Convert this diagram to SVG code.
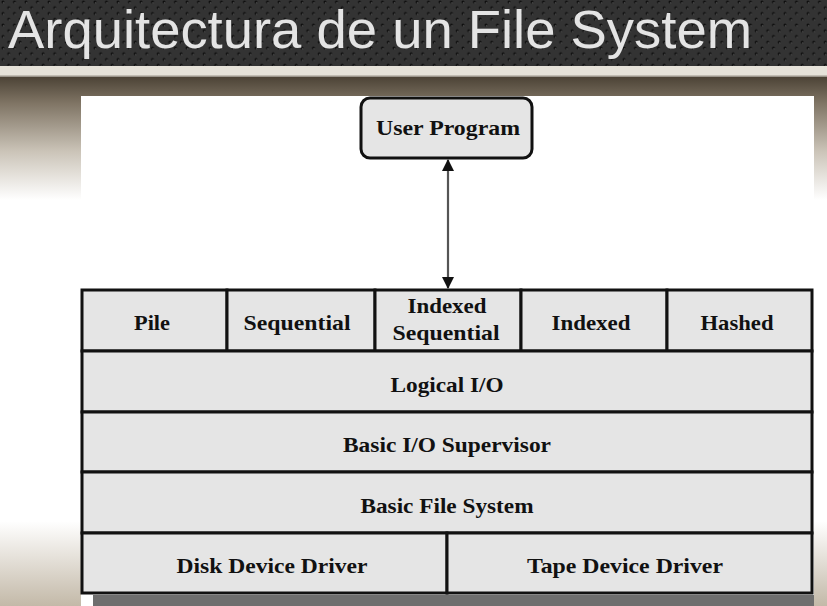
<svg xmlns="http://www.w3.org/2000/svg" width="827" height="606" viewBox="0 0 827 606">
<defs>
  <pattern id="dots" x="0" y="0" width="11.5" height="11.5" patternUnits="userSpaceOnUse">
    <rect width="11.5" height="11.5" fill="#333333"/>
    <circle cx="3" cy="2" r="1.5" fill="#0e0e0e"/>
    <circle cx="8.75" cy="7.75" r="1.5" fill="#0e0e0e"/>
    <circle cx="3.6" cy="2.8" r="0.8" fill="#4a4a4a"/>
    <circle cx="9.35" cy="8.55" r="0.8" fill="#4a4a4a"/>
  </pattern>
  <linearGradient id="bg" x1="0" y1="0" x2="0" y2="606" gradientUnits="userSpaceOnUse">
    <stop offset="0.125" stop-color="#4a4134"/>
    <stop offset="0.17" stop-color="#7f7464"/>
    <stop offset="0.25" stop-color="#cbc4b8"/>
    <stop offset="0.33" stop-color="#ffffff"/>
    <stop offset="0.86" stop-color="#ffffff"/>
    <stop offset="1" stop-color="#c3b9a8"/>
  </linearGradient>
  <marker id="arr" viewBox="0 0 12 12" refX="11" refY="6" markerWidth="12" markerHeight="12" markerUnits="userSpaceOnUse" orient="auto-start-reverse">
    <path d="M0,0 L12,6 L0,12 Z" fill="#111"/>
  </marker>
  <style>
    .cell { fill: #e5e5e5; stroke: #111; stroke-width: 3; }
    .lbl { font-family: "Liberation Serif", "Times New Roman", serif; font-weight: bold; font-size: 22px; fill: #111; text-anchor: middle; }
    .title { font-family: "Liberation Sans", Arial, sans-serif; font-size: 54px; fill: #e4e4e4; }
  </style>
</defs>

<!-- background -->
<rect x="0" y="0" width="827" height="606" fill="url(#bg)"/>
<rect x="0" y="0" width="827" height="66" fill="url(#dots)"/>
<rect x="0" y="66" width="827" height="10" fill="#e6e2d9"/>
<rect x="0" y="75.5" width="827" height="1.5" fill="#9c968c"/>
<rect x="81" y="96" width="733" height="510" fill="#ffffff"/>
<rect x="93" y="595" width="721" height="11" fill="#6e6e6e"/>

<text class="title" x="8" y="48" textLength="744" lengthAdjust="spacingAndGlyphs">Arquitectura de un File System</text>

<!-- connectors -->
<g id="connectors">
  <line x1="448" y1="160" x2="448" y2="288" stroke="#555" stroke-width="2.2" marker-start="url(#arr)" marker-end="url(#arr)"/>
</g>

<g id="user-program">
  <rect x="361" y="98" width="171" height="60" rx="9" class="cell"/>
  <text class="lbl" x="448" y="135" textLength="144" lengthAdjust="spacingAndGlyphs">User Program</text>
</g>

<g id="pile">
  <rect x="82" y="290" width="145" height="61" class="cell"/>
  <text class="lbl" x="152" y="330" textLength="36" lengthAdjust="spacingAndGlyphs">Pile</text>
</g>
<g id="sequential">
  <rect x="227" y="290" width="148" height="61" class="cell"/>
  <text class="lbl" x="297" y="330" textLength="107" lengthAdjust="spacingAndGlyphs">Sequential</text>
</g>
<g id="indexed-sequential">
  <rect x="375" y="290" width="146" height="61" class="cell"/>
  <text class="lbl" x="447" y="313" textLength="79" lengthAdjust="spacingAndGlyphs">Indexed</text>
  <text class="lbl" x="446" y="340" textLength="107" lengthAdjust="spacingAndGlyphs">Sequential</text>
</g>
<g id="indexed">
  <rect x="521" y="290" width="146" height="61" class="cell"/>
  <text class="lbl" x="591" y="330" textLength="79" lengthAdjust="spacingAndGlyphs">Indexed</text>
</g>
<g id="hashed">
  <rect x="667" y="290" width="145" height="61" class="cell"/>
  <text class="lbl" x="737" y="330" textLength="73" lengthAdjust="spacingAndGlyphs">Hashed</text>
</g>

<g id="logical-io">
  <rect x="82" y="351" width="730" height="61" class="cell"/>
  <text class="lbl" x="447" y="392" textLength="113" lengthAdjust="spacingAndGlyphs">Logical I/O</text>
</g>
<g id="basic-io-supervisor">
  <rect x="82" y="412" width="730" height="60" class="cell"/>
  <text class="lbl" x="447" y="452" textLength="208" lengthAdjust="spacingAndGlyphs">Basic I/O Supervisor</text>
</g>
<g id="basic-file-system">
  <rect x="82" y="472" width="730" height="61" class="cell"/>
  <text class="lbl" x="447" y="513" textLength="173" lengthAdjust="spacingAndGlyphs">Basic File System</text>
</g>
<g id="disk-device-driver">
  <rect x="82" y="533" width="365" height="60" class="cell"/>
  <text class="lbl" x="272" y="573" textLength="191" lengthAdjust="spacingAndGlyphs">Disk Device Driver</text>
</g>
<g id="tape-device-driver">
  <rect x="447" y="533" width="365" height="60" class="cell"/>
  <text class="lbl" x="625" y="573" textLength="196" lengthAdjust="spacingAndGlyphs">Tape Device Driver</text>
</g>
</svg>
